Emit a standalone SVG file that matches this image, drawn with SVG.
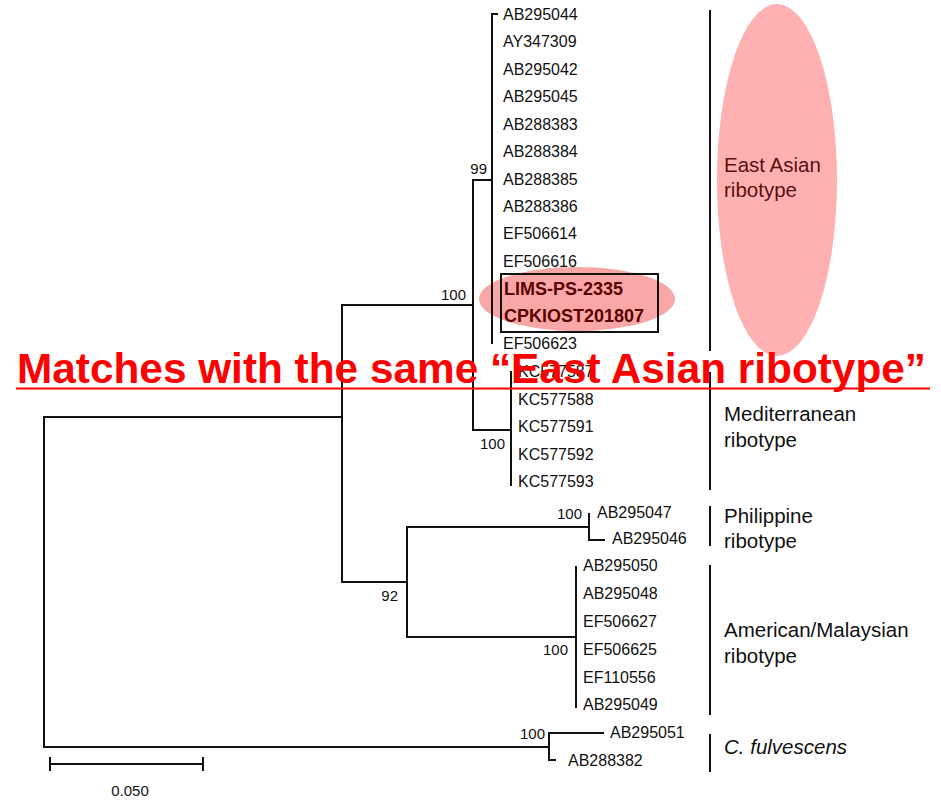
<svg xmlns="http://www.w3.org/2000/svg" width="941" height="801" viewBox="0 0 941 801">
<style>
.leaf{font-family:"Liberation Sans",Arial,sans-serif;font-size:16px;fill:#111}
.sup{font-family:"Liberation Sans",Arial,sans-serif;font-size:15px;fill:#111}
.clade{font-family:"Liberation Sans",Arial,sans-serif;font-size:20.5px;fill:#111}
.hl{font-family:"Liberation Sans",Arial,sans-serif;font-size:18px;font-weight:bold;fill:#5a0000}
.br{fill:none;stroke:#111;stroke-width:2;stroke-linecap:square}
.bar{fill:none;stroke:#111;stroke-width:2}
.pink{fill:#ffb0b0}
</style>
<rect width="941" height="801" fill="#fff"/>
<g id="highlights">
<ellipse class="pink" cx="777" cy="180" rx="60" ry="176"/>
<ellipse class="pink" cx="577" cy="299" rx="98" ry="32" style="fill:#f8a6a6"/>
</g>
<g id="connectors">
<path class="br" d="M492 14V343M492 14H497M473 180H492M473 180V430M473 430H511M511 372V485M342 305H473M342 305V582M44 417H342M342 582H407M407 527V637M407 527H589M589 514V540M589 540H604M407 637H576M576 567V707M44 417V747M44 747H549M549 733V760M549 733H603M549 760H555"/>
<path class="br" d="M50 764H203M50 758V770M203 758V770"/>
</g>
<g id="clade-bars">
<path class="bar" d="M710 10V351M710 372V490M710 506V546M710 565V715M710 734V772"/>
</g>
<g id="leaves-east-asian" class="leaf">
<text x="503" y="20">AB295044</text>
<text x="503" y="47.4">AY347309</text>
<text x="503" y="74.8">AB295042</text>
<text x="503" y="102.3">AB295045</text>
<text x="503" y="129.7">AB288383</text>
<text x="503" y="157.1">AB288384</text>
<text x="503" y="184.5">AB288385</text>
<text x="503" y="211.9">AB288386</text>
<text x="503" y="239.4">EF506614</text>
<text x="503" y="266.8">EF506616</text>
<text x="503" y="349">EF506623</text>
</g>
<g id="query-box">
<rect x="501" y="274" width="157" height="58" fill="none" stroke="#111" stroke-width="2"/>
<text class="hl" x="504" y="294.5">LIMS-PS-2335</text>
<text class="hl" x="504" y="322">CPKIOST201807</text>
</g>
<g id="leaves-mediterranean" class="leaf">
<text x="518" y="377">KC577587</text>
<text x="518" y="404.5">KC577588</text>
<text x="518" y="432">KC577591</text>
<text x="518" y="459.5">KC577592</text>
<text x="518" y="487">KC577593</text>
</g>
<g id="leaves-philippine" class="leaf">
<text x="597" y="518">AB295047</text>
<text x="612" y="544">AB295046</text>
</g>
<g id="leaves-american" class="leaf">
<text x="583" y="571">AB295050</text>
<text x="583" y="599">AB295048</text>
<text x="583" y="627">EF506627</text>
<text x="583" y="655">EF506625</text>
<text x="583" y="683">EF110556</text>
<text x="583" y="710">AB295049</text>
</g>
<g id="leaves-fulvescens" class="leaf">
<text x="610" y="738">AB295051</text>
<text x="568" y="766">AB288382</text>
</g>
<g id="support" class="sup" text-anchor="end">
<text x="487" y="174">99</text>
<text x="466" y="300">100</text>
<text x="505" y="449">100</text>
<text x="398" y="601">92</text>
<text x="582" y="519">100</text>
<text x="568" y="655">100</text>
<text x="545" y="739">100</text>
</g>
<g id="scale">
<text class="sup" x="130" y="796" text-anchor="middle">0.050</text>
</g>
<g id="clade-labels" class="clade">
<text x="724" y="172" style="fill:#5c1010">East Asian</text>
<text x="724" y="197" style="fill:#5c1010">ribotype</text>
<text x="724" y="421">Mediterranean</text>
<text x="724" y="447">ribotype</text>
<text x="724" y="523">Philippine</text>
<text x="724" y="548">ribotype</text>
<text x="724" y="637">American/Malaysian</text>
<text x="724" y="663">ribotype</text>
<text x="724" y="754" font-style="italic">C. fulvescens</text>
</g>
<g id="heading">
<text x="17" y="383" font-family="'Liberation Sans',Arial,sans-serif" font-size="43" font-weight="bold" fill="#ff0000" textLength="909" lengthAdjust="spacingAndGlyphs">Matches with the same “East Asian ribotype”</text>
<rect x="16" y="387.5" width="914" height="2" fill="#ff0000"/>
</g>
</svg>
